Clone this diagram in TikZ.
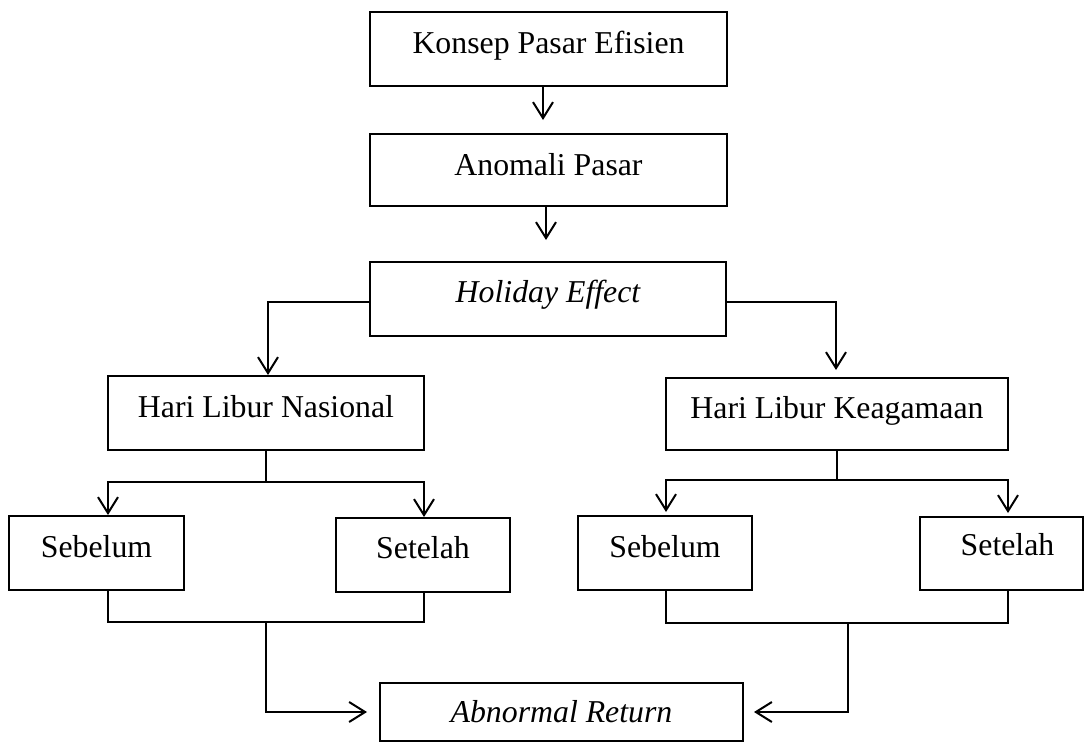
\documentclass[tikz,border=0pt]{standalone}
\usepackage{fontspec}
\setmainfont{Liberation Serif}
\usetikzlibrary{arrows.meta}
\begin{document}
\begin{tikzpicture}[x=1pt,y=-1pt,
  box/.style={draw, line width=2pt, fill=white, inner sep=0pt,
    font=\fontsize{31.8pt}{38pt}\selectfont},
  conn/.style={line width=2pt, line join=miter},
  arr/.style={conn, -{Straight Barb[length=16pt,width=20pt]}},
  arrtwo/.style={conn, {Straight Barb[length=16pt,width=20pt]}-{Straight Barb[length=16pt,width=20pt]}}]
\useasboundingbox[fill=white] (0,0) rectangle (1086,744);
% boxes
\node[box, minimum width=357pt, minimum height=74pt, text height=41pt, text depth=33pt] (b1) at (548.5,49) {Konsep Pasar Efisien};
\node[box, minimum width=357pt, minimum height=72pt, text height=41pt, text depth=31pt] (b2) at (548.5,170) {Anomali Pasar};
\node[box, minimum width=356pt, minimum height=74pt, text height=40pt, text depth=34pt] (b3) at (548,299) {\itshape Holiday Effect};
\node[box, minimum width=316pt, minimum height=74pt, text height=41pt, text depth=33pt] (hln) at (266,413) {Hari Libur Nasional\hspace{20pt}};
\node[box, minimum width=342pt, minimum height=72pt, text height=40pt, text depth=32pt] (hlk) at (837,414) {Hari Libur Keagamaan};
\node[box, minimum width=175pt, minimum height=74pt, text height=41pt, text depth=33pt] (s1) at (96.5,553) {Sebelum};
\node[box, minimum width=174pt, minimum height=74pt, text height=40pt, text depth=34pt] (e1) at (423,555) {Setelah};
\node[box, minimum width=174pt, minimum height=74pt, text height=41pt, text depth=33pt] (s2) at (665,553) {Sebelum};
\node[box, minimum width=163pt, minimum height=73pt, text height=38pt, text depth=35pt] (e2) at (1001.5,553.5) {\hspace{12pt}Setelah};
\node[box, minimum width=363pt, minimum height=58pt, text height=39pt, text depth=19pt] (ar) at (561.5,712) {\itshape Abnormal Return};
% coordinates
\coordinate (a1) at (543,120);
\coordinate (a2) at (546,240);
\coordinate (hl) at (268,302);
\coordinate (hr) at (836,302);
\coordinate (hrt) at (836,370);
\coordinate (n1) at (108,482);
\coordinate (n2) at (424,482);
\coordinate (k1) at (666,480);
\coordinate (k2) at (1008,480);
\coordinate (m1) at (108,622);
\coordinate (m2) at (424,622);
\coordinate (m3) at (266,622);
\coordinate (p1) at (666,623);
\coordinate (p2) at (1008,623);
\coordinate (p3) at (848,623);
% connectors
\draw[arr] (a1 |- b1.south) -- (a1);
\draw[arr] (a2 |- b2.south) -- (a2);
\draw[arr] (b3.west |- hl) -- (hl) -- (hl |- hln.north);
\draw[arr] (b3.east |- hr) -- (hr) -- (hrt);
\draw[conn] (hln.south) -- (hln.south |- n1);
\draw[arrtwo] (n1 |- s1.north) -- (n1) -- (n2) -- (n2 |- e1.north);
\draw[conn] (hlk.south) -- (hlk.south |- k1);
\draw[arrtwo, shorten <=3pt, shorten >=3pt] (k1 |- s2.north) -- (k1) -- (k2) -- (k2 |- e2.north);
\draw[conn] (m1 |- s1.south) -- (m1) -- (m2) -- (m2 |- e1.south);
\draw[arr, shorten >=12pt] (m3) -- (m3 |- ar.west) -- (ar.west);
\draw[conn] (p1 |- s2.south) -- (p1) -- (p2) -- (p2 |- e2.south);
\draw[arr, shorten >=10pt] (p3) -- (p3 |- ar.east) -- (ar.east);
\end{tikzpicture}
\end{document}
